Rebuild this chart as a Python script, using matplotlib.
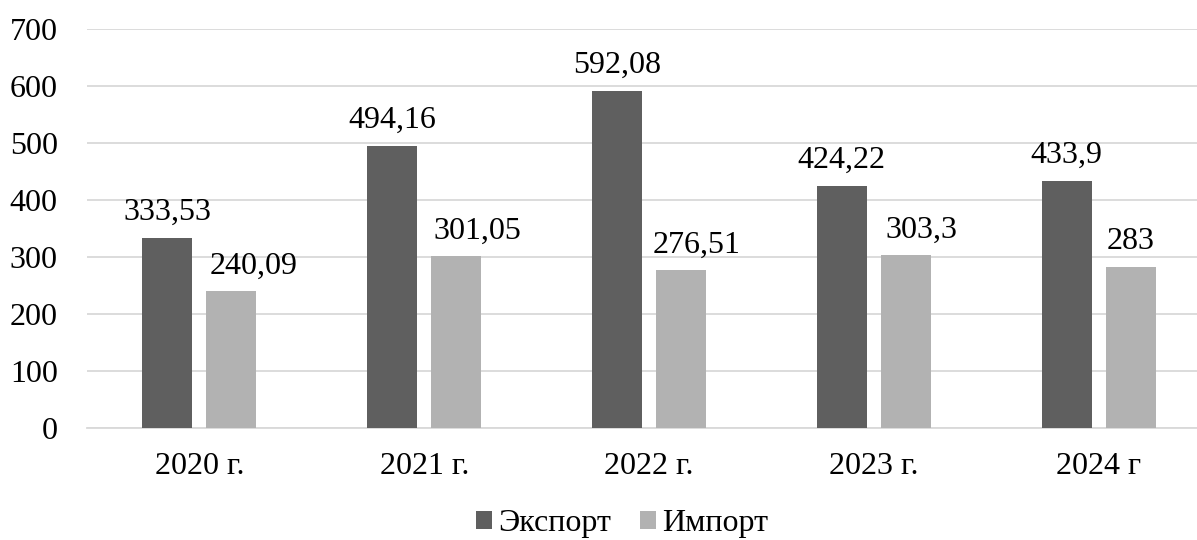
import matplotlib
matplotlib.use("Agg")
import matplotlib.pyplot as plt
import numpy as np

years = ["2020 г.", "2021 г.", "2022 г.", "2023 г.", "2024 г"]
export_vals = [333.53, 494.16, 592.08, 424.22, 433.9]
import_vals = [240.09, 301.05, 276.51, 303.3, 283]
export_labels = ["333,53", "494,16", "592,08", "424,22", "433,9"]
import_labels = ["240,09", "301,05", "276,51", "303,3", "283"]
series_names = ["Экспорт", "Импорт"]

# horizontal nudges (points) for the import value labels
import_label_dx = [16, 15, 11, 11.5, 0]

plt.rcParams["font.family"] = ["Liberation Serif", "DejaVu Serif"]
FS = 23

fig = plt.figure(figsize=(11.97, 5.40), dpi=100)
ax = fig.add_axes([87 / 1197, 112 / 540, 1124 / 1197, 399 / 540])

x = np.arange(len(years))
w = 0.2225
off = 0.1424
c_exp = "#5f5f5f"
c_imp = "#b2b2b2"

b1 = ax.bar(x - off, export_vals, w, color=c_exp, label=series_names[0], zorder=3)
b2 = ax.bar(x + off, import_vals, w, color=c_imp, label=series_names[1], zorder=3)

for rect, lab in zip(b1, export_labels):
    ax.annotate(lab, (rect.get_x() + rect.get_width() / 2, rect.get_height()),
                xytext=(0, 13), textcoords="offset points", ha="center",
                va="baseline", fontsize=FS)
for rect, lab, dx in zip(b2, import_labels, import_label_dx):
    ax.annotate(lab, (rect.get_x() + rect.get_width() / 2, rect.get_height()),
                xytext=(dx, 12.5), textcoords="offset points", ha="center",
                va="baseline", fontsize=FS)

ax.set_xlim(-0.5, len(years) - 0.5)
ax.set_ylim(0, 700)
ax.set_yticks(range(0, 701, 100))
ax.set_xticks(x)
ax.set_xticklabels(years)
ax.tick_params(axis="both", length=0, labelsize=FS)
ax.tick_params(axis="x", pad=17)
ax.tick_params(axis="y", pad=21)
ax.grid(axis="y", color="#d9d9d9", linewidth=1.3, zorder=0)
for s in ["top", "right", "left"]:
    ax.spines[s].set_visible(False)
ax.spines["bottom"].set_color("#d9d9d9")
ax.spines["bottom"].set_linewidth(1.3)

fig.legend(handles=[b1, b2], labels=series_names, loc="center",
           bbox_to_anchor=(622 / 1197, 1 - 524 / 540), ncol=2, frameon=False,
           fontsize=FS, handlelength=0.5, handleheight=0.5, handletextpad=0.2,
           columnspacing=0.9, borderpad=0)

fig.savefig("out.png", dpi=100)
